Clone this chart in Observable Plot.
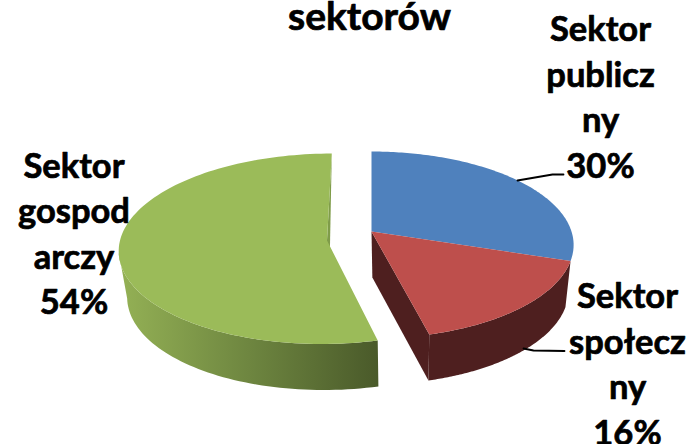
<!DOCTYPE html>
<html><head><meta charset="utf-8">
<script src="https://cdn.jsdelivr.net/npm/d3@7"></script>
<script src="https://cdn.jsdelivr.net/npm/@observablehq/plot@0.6"></script>
<style>html,body{margin:0;padding:0;background:#fff}svg{display:block}</style>
</head><body><div id="c"></div>
<script>
const categories = ["Sektor publiczny", "Sektor społeczny", "Sektor gospodarczy"];
const shares = [30, 16, 54];
const labelLines = ["Sektor\npublicz\nny\n30%", "Sektor\nspołecz\nny\n16%", "Sektor\ngospod\narczy\n54%"];
const titleText = "sektorów";
const labelX = [600, 627, 73.5];
const labelY = [94.5, 361.5, 231];
const topColors = ["#4F81BD", "#BE4F4C", "#9BBB59"];
const sideColors = ["#2A4B75", "#4E1F1F", "url(#greenSide)"];
// pie geometry per slice: apex, horizontal radius, vertical scale, perspective, shear
const apexX = [371, 371, 326.5], apexY = [231, 231, 240];
const radX = [200, 200, 207], radY = [91.5, 91.5, 94.5];
const persp = [0.144, 0.144, 0.087], shear = [0, 0, -0.055];
const depth = 46, vanishX = 400, shrink = 0.97;

const cum = d3.cumsum(shares);
const total = d3.sum(shares);
const ang = f => f / total * 2 * Math.PI;
function rim(i, t) {
  const X = Math.sin(t), Y = -Math.cos(t), w = 1 - persp[i] * Y;
  const dy = radY[i] * Y / w;
  return [apexX[i] + radX[i] * X / w + shear[i] * dy, apexY[i] + dy];
}
const down = ([x, y]) => [vanishX + (x - vanishX) * shrink, y + depth];
const rows = a => a.map(([x, y]) => ({x, y}));
const faces = shares.map((s, i) => {
  const a0 = ang(i ? cum[i - 1] : 0), a1 = ang(cum[i]);
  const arc = d3.range(0, 121).map(k => rim(i, a0 + (a1 - a0) * k / 120));
  const apex = [apexX[i], apexY[i]];
  const top = [apex, ...arc];
  // outer wall: the rim between its right-most and left-most points
  const kR = d3.greatest(d3.range(121), k => arc[k][0]);
  const kL = d3.least(d3.range(121), k => arc[k][0]);
  const near = arc.slice(kR, kL + 1);
  const wall = [...near, ...near.slice().reverse().map(down)];
  const cutEnd = [apex, arc[120], down(arc[120]), down(apex)];
  const sliver = [apex, arc[120], down(apex)];
  return {top: rows(top), wall: rows(wall), cutEnd: rows(cutEnd), sliver: rows(sliver)};
});
const opt = fill => ({x: "x", y: "y", fill, stroke: "none"});
const labels = categories.map((c, i) => ({c, t: labelLines[i], x: labelX[i], y: labelY[i]}));
const leaders = [
  [[517, 180], [552, 174], [563, 174]],
  [[523, 348], [533, 350], [564, 350.5]]
];
const font = "Lato, Carlito, sans-serif";
const heavy = {fontFamily: font, fontWeight: 700, fill: "#000", stroke: "#000", strokeWidth: 0.7};

const chart = Plot.plot({
  width: 687, height: 444, margin: 0,
  x: {domain: [0, 687], range: [0, 687], axis: null},
  y: {domain: [0, 444], range: [0, 444], axis: null},
  style: {background: "#fff"},
  marks: [
    () => {
      const ns = "http://www.w3.org/2000/svg";
      const defs = document.createElementNS(ns, "defs");
      const g = document.createElementNS(ns, "linearGradient");
      g.setAttribute("id", "greenSide");
      g.setAttribute("gradientUnits", "userSpaceOnUse");
      g.setAttribute("x1", 119); g.setAttribute("x2", 377);
      g.setAttribute("y1", 0); g.setAttribute("y2", 0);
      [[0, "#94B155"], [0.5, "#6E8640"], [1, "#4A5A2A"]].forEach(([o, c]) => {
        const s = document.createElementNS(ns, "stop");
        s.setAttribute("offset", o); s.setAttribute("stop-color", c);
        g.appendChild(s);
      });
      defs.appendChild(g);
      return defs;
    },
    // cut faces and walls first, then the top faces
    Plot.line(faces[2].sliver, opt("#7F9C49")),
    Plot.line(faces[0].wall, opt(sideColors[0])),
    Plot.line(faces[1].cutEnd, opt(sideColors[1])),
    Plot.line(faces[1].wall, opt(sideColors[1])),
    Plot.line(faces[2].wall, opt(sideColors[2])),
    ...faces.map((f, i) => Plot.line(f.top, opt(topColors[i]))),
    ...leaders.map(l => Plot.line(rows(l), {x: "x", y: "y", stroke: "#000", strokeWidth: 1.8})),
    Plot.text([titleText], {x: () => 369, y: () => 17, text: d => d, fontSize: 39, ...heavy}),
    Plot.text(labels, {x: "x", y: "y", text: "t", lineAnchor: "middle", lineHeight: 1.32, fontSize: 34.5, ...heavy})
  ]
});
document.getElementById("c").appendChild(chart);
</script>
</body></html>
